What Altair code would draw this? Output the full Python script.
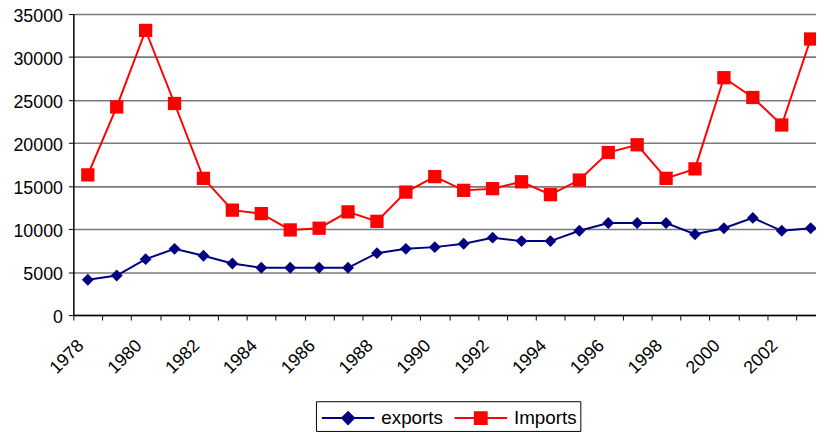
import altair as alt
import pandas as pd

years = [1978, 1979, 1980, 1981, 1982, 1983, 1984, 1985, 1986, 1987, 1988, 1989, 1990,
         1991, 1992, 1993, 1994, 1995, 1996, 1997, 1998, 1999, 2000, 2001, 2002, 2003]
exports = [4100, 4600, 6500, 7700, 6900, 6000, 5500, 5500, 5500, 5500, 7200, 7700, 7900,
           8300, 9000, 8600, 8600, 9800, 10700, 10700, 10700, 9400, 10100, 11300, 9800, 10100]
imports = [16300, 24200, 33100, 24600, 15900, 12200, 11800, 9900, 10100, 12000, 10900, 14300, 16100,
           14500, 14700, 15500, 14000, 15700, 18900, 19800, 15900, 17000, 27600, 25300, 22100, 32100]
series_names = ["exports", "Imports"]
series_colors = ["#000080", "#ff0000"]
y_ticks = [0, 5000, 10000, 15000, 20000, 25000, 30000, 35000]

rows = []
for y, e, i in zip(years, exports, imports):
    rows.append({"year": y, "series": "exports", "value": e})
    rows.append({"year": y, "series": "Imports", "value": i})
df = pd.DataFrame(rows)

FONT = "Liberation Sans"

x_enc = alt.X(
    "year:O",
    bandPosition=0.5,
    scale=alt.Scale(type="band", range=[0, 759.2], paddingInner=0, paddingOuter=0),
    axis=alt.Axis(
        title=None, tickBand="extent", labelAngle=315, labelAlign="right",
        labelBaseline="middle", labelFont=FONT, labelFontSize=18, labelColor="black",
        labelPadding=23, labelOffset=-7,
        labelExpr="datum.value % 2 == 0 ? datum.label : ''",
        tickColor="black", tickSize=5, domainColor="black", domainWidth=1.5,
        grid=False, labelOverlap=False,
    ),
)
y_enc = alt.Y(
    "value:Q",
    scale=alt.Scale(domain=[0, 35000], nice=False),
    axis=alt.Axis(
        title=None, values=y_ticks, format="d", labelFont=FONT, labelFontSize=18,
        labelColor="black", labelPadding=6, labelOffset=3, tickColor="black", tickSize=5,
        domainColor="black", domainWidth=1.5, grid=True, gridColor="#7a7a7a",
        gridWidth=1.6,
    ),
)

exp_path = "M-0.85,0H3.23M1.19,-0.46L1.65,0L1.19,0.46L0.73,0Z"
imp_path = "M-0.85,0H3.23M0.73,-0.46H1.65V0.46H0.73Z"
col_expr = "datum.value === 'exports' ? '#000080' : '#ff0000'"

legend = alt.Legend(
    title=None, orient="none", legendX=245, legendY=391, direction="horizontal",
    strokeColor="black", padding=3, symbolSize=676, symbolStrokeWidth=2,
    labelFont=FONT, labelFontSize=19, labelColor="black", labelOffset=35,
    columnPadding=6, symbolOpacity=1,
    symbolType=alt.ExprRef(expr="datum.value === 'exports' ? '" + exp_path + "' : '" + imp_path + "'"),
    symbolFillColor=alt.ExprRef(expr=col_expr),
    symbolStrokeColor=alt.ExprRef(expr=col_expr),
)

lines = alt.Chart(df).mark_line(strokeWidth=2).encode(
    x=x_enc,
    y=y_enc,
    color=alt.Color("series:N", scale=alt.Scale(domain=series_names, range=series_colors), legend=legend),
)

pts_exp = alt.Chart(df).transform_filter(alt.datum.series == "exports").mark_point(
    shape="diamond", filled=True, color="#000080", size=144, opacity=1
).encode(x=x_enc, y=y_enc)

pts_imp = alt.Chart(df).transform_filter(alt.datum.series == "Imports").mark_point(
    shape="square", filled=True, color="#ff0000", size=180, opacity=1
).encode(x=x_enc, y=y_enc)

chart = alt.layer(lines, pts_exp, pts_imp).properties(
    width=750, height=304, autosize="none",
    padding={"left": 66, "top": 4, "right": 0, "bottom": 120},
    background="white",
).configure_view(stroke=None)

chart.save("out.html", embed_options={"renderer": "svg", "actions": False})
